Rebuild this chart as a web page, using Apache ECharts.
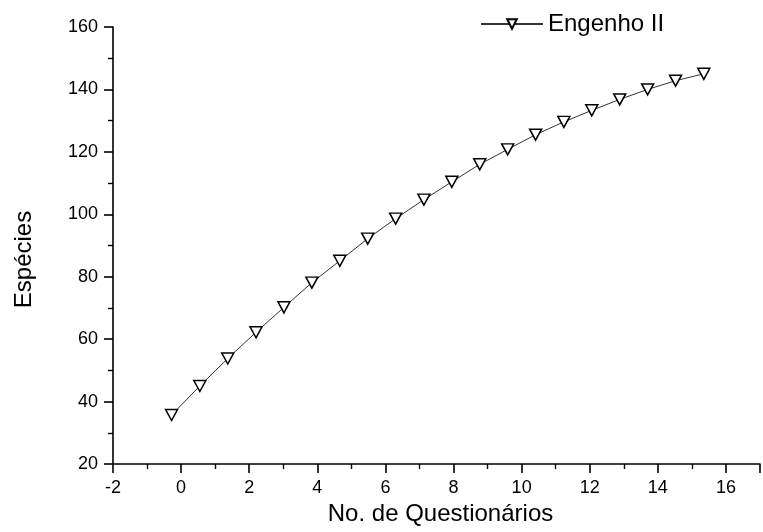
<!DOCTYPE html>
<html>
<head>
<meta charset="utf-8">
<script src="https://cdn.jsdelivr.net/npm/echarts@6/dist/echarts.min.js"></script>
<style>
  html, body { margin: 0; padding: 0; background: #fff; }
  #chart { width: 763px; height: 532px; }
</style>
</head>
<body>
<div id="chart"></div>
<script>
// Species accumulation curve for Engenho II
const seriesName = 'Engenho II';
const questionarios = [-0.28, 0.55, 1.37, 2.2, 3.02, 3.84, 4.66, 5.48, 6.3, 7.13,
                       7.95, 8.77, 9.59, 10.41, 11.24, 12.06, 12.88, 13.7, 14.52, 15.35];
const especies = [35.7, 45.0, 53.8, 62.2, 70.2, 78.1, 85.1, 92.2, 98.6, 104.7,
                  110.4, 116.0, 120.8, 125.5, 129.6, 133.3, 136.8, 140.0, 142.8, 145.0];
const xTitle = 'No. de Questionários';
const yTitle = 'Espécies';

const points = questionarios.map((x, i) => [x, especies[i]]);
const font = 'Liberation Sans, Arial, sans-serif';

const chart = echarts.init(document.getElementById('chart'), null, { renderer: 'canvas' });
chart.setOption({
  animation: false,
  backgroundColor: '#ffffff',
  grid: { left: 113, right: -5, top: 27, bottom: 68, containLabel: false },
  legend: {
    left: 475, top: 7,
    itemWidth: 62, itemHeight: 12, itemGap: 10,
    textStyle: { fontFamily: font, fontSize: 24, color: '#000' },
    data: [seriesName]
  },
  xAxis: {
    type: 'value', min: -2, max: 17, interval: 2,
    name: xTitle, nameLocation: 'middle', nameGap: 37,
    nameTextStyle: { fontFamily: font, fontSize: 24, color: '#000', padding: [0, 0, 0, 8] },
    axisLine: { onZero: false, lineStyle: { color: '#000', width: 1.6 } },
    axisTick: { show: true, inside: false, length: 9, lineStyle: { color: '#000', width: 1.6 } },
    minorTick: { show: true, splitNumber: 2, length: 5, lineStyle: { color: '#000', width: 1.4 } },
    axisLabel: {
      margin: 15, fontFamily: font, fontSize: 18, color: '#000',
      formatter: v => (v > 16 ? '' : String(v))
    },
    splitLine: { show: false }
  },
  yAxis: {
    type: 'value', min: 20, max: 160, interval: 20,
    name: yTitle, nameLocation: 'middle', nameGap: 77,
    nameTextStyle: { fontFamily: font, fontSize: 24, color: '#000', padding: [0, 28, 0, 0] },
    axisLine: { onZero: false, lineStyle: { color: '#000', width: 1.6 } },
    axisTick: { show: true, inside: false, length: 9, lineStyle: { color: '#000', width: 1.6 } },
    minorTick: { show: true, splitNumber: 2, length: 5, lineStyle: { color: '#000', width: 1.4 } },
    axisLabel: { margin: 15, fontFamily: font, fontSize: 18, color: '#000' },
    splitLine: { show: false }
  },
  series: [{
    name: seriesName,
    type: 'line',
    data: points,
    symbol: 'triangle',
    symbolRotate: 180,
    symbolSize: [12, 11],
    showAllSymbol: true,
    lineStyle: { color: '#333', width: 1 },
    itemStyle: { color: '#fff', borderColor: '#000', borderWidth: 1.5 }
  }]
});
</script>
</body>
</html>
